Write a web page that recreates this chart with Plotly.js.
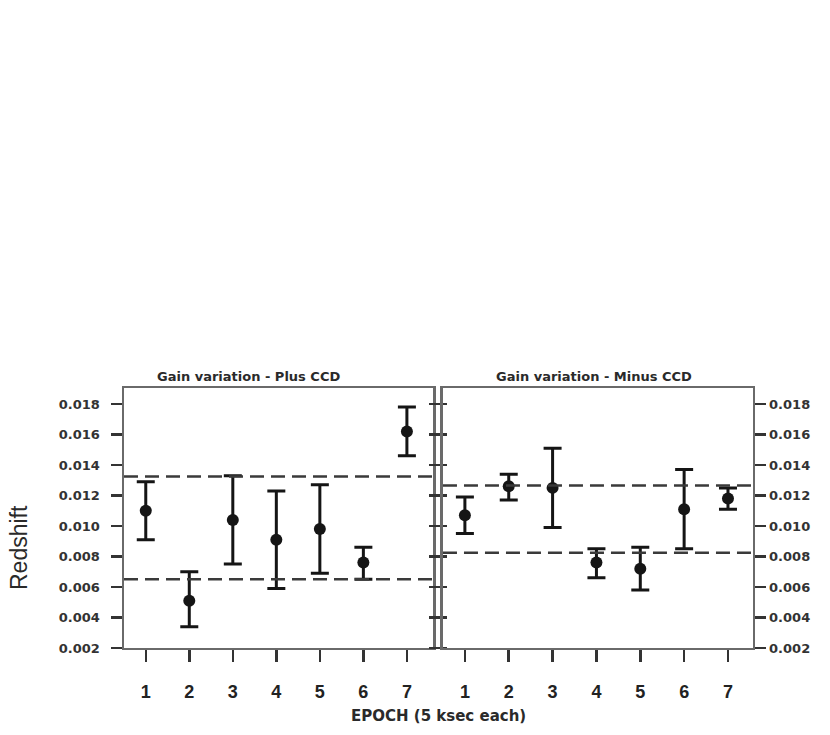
<!DOCTYPE html>
<html>
<head>
<meta charset="utf-8">
<script src="https://cdn.plot.ly/plotly-3.0.1.min.js"></script>
<style>
  html, body { margin: 0; padding: 0; background: #fff; }
  #chart { width: 830px; height: 735px; }
</style>
</head>
<body>
<div id="chart"></div>
<script>
// Epochs (5 ksec each)
const epochs = [1, 2, 3, 4, 5, 6, 7]

// Plus CCD: redshift and error bar ends
const plus_z = [0.0110, 0.0051, 0.0104, 0.0091, 0.0098, 0.0076, 0.0162]
const plus_hi = [0.0129, 0.0070, 0.0133, 0.0123, 0.0127, 0.0086, 0.0178]
const plus_lo = [0.0091, 0.0034, 0.0075, 0.0059, 0.0069, 0.0065, 0.0146]
const plus_band = [0.00650, 0.01325]

// Minus CCD
const minus_z = [0.0107, 0.0126, 0.0125, 0.0076, 0.0072, 0.0111, 0.0118]
const minus_hi = [0.0119, 0.0134, 0.0151, 0.0085, 0.0086, 0.0137, 0.0125]
const minus_lo = [0.0095, 0.0117, 0.0099, 0.0066, 0.0058, 0.0085, 0.0111]
const minus_band = [0.00825, 0.01265]

const ink = '#151515'
const frame = '#6a6a6a'
const font = 'Liberation Sans, Arial, sans-serif'
const wide = 'DejaVu Sans, Verdana, sans-serif'

function make_trace(z, hi, lo, xa, ya) {
	return {
		x: epochs,
		y: z,
		xaxis: xa,
		yaxis: ya,
		type: 'scatter',
		mode: 'markers',
		marker: {size: 12, color: ink},
		error_y: {
			type: 'data',
			symmetric: false,
			array: hi.map((v, i) => v - z[i]),
			arrayminus: lo.map((v, i) => z[i] - v),
			color: ink,
			thickness: 3,
			width: 9
		},
		showlegend: false,
		hoverinfo: 'x+y'
	}
}

let data = [
	make_trace(plus_z, plus_hi, plus_lo, 'x', 'y'),
	make_trace(minus_z, minus_hi, minus_lo, 'x2', 'y2')
]

function band_lines(vals, xref, yref) {
	return vals.map(v => ({
		type: 'line',
		xref: xref,
		yref: yref,
		x0: 0, x1: 1,
		y0: v, y1: v,
		line: {color: '#3a3a3a', width: 2.5, dash: '14px,7px'}
	}))
}

const x_common = {
	range: [0.5, 7.6],
	tickvals: epochs,
	ticktext: epochs.map(String),
	ticks: 'outside',
	ticklen: 12,
	tickwidth: 2.5,
	tickcolor: '#333',
	ticklabelstandoff: 14,
	showline: true,
	linecolor: frame,
	linewidth: 2.5,
	mirror: true,
	showgrid: false,
	zeroline: false,
	tickfont: {family: font, size: 18, color: '#222', weight: 'bold'}
}

const y_common = {
	range: [0.002, 0.01905],
	tick0: 0.002,
	dtick: 0.002,
	tickformat: '.3f',
	ticks: 'outside',
	ticklen: 11,
	tickwidth: 2.5,
	tickcolor: '#333',
	showline: true,
	linecolor: frame,
	linewidth: 2.5,
	mirror: 'ticks',
	showgrid: false,
	zeroline: false,
	domain: [0.1184, 0.4721],
	tickfont: {family: wide, size: 13, color: '#333', weight: 'bold'}
}

function label(text, px, py, size, fam, bold, angle) {
	return {
		text: text,
		xref: 'paper', yref: 'paper',
		x: px / 830, y: 1 - py / 735,
		xanchor: 'center', yanchor: 'middle',
		textangle: angle || 0,
		showarrow: false,
		font: {family: fam, size: size, color: '#2a2a2a', weight: bold ? 'bold' : 'normal'}
	}
}

let layout = {
	width: 830,
	height: 735,
	margin: {t: 0, b: 0, l: 0, r: 0},
	paper_bgcolor: '#fff',
	plot_bgcolor: '#fff',
	showlegend: false,
	xaxis: Object.assign({}, x_common, {domain: [0.1494, 0.5217], anchor: 'y'}),
	xaxis2: Object.assign({}, x_common, {domain: [0.5337, 0.9072], anchor: 'y2', range: [0.5, 7.57]}),
	yaxis: Object.assign({}, y_common, {anchor: 'x', side: 'left', ticklabelstandoff: 8}),
	yaxis2: Object.assign({}, y_common, {anchor: 'x2', side: 'right'}),
	shapes: band_lines(plus_band, 'x domain', 'y').concat(band_lines(minus_band, 'x2 domain', 'y2')),
	annotations: [
		label('Gain variation - Plus CCD', 248, 376, 13, wide, true),
		label('Gain variation - Minus CCD', 594, 376, 13, wide, true),
		label('EPOCH (5 ksec each)', 438, 716, 15, wide, true),
		label('Redshift', 19, 548, 23, font, false, -90)
	]
}

Plotly.newPlot('chart', data, layout, {displayModeBar: false, staticPlot: true})
</script>
</body>
</html>
